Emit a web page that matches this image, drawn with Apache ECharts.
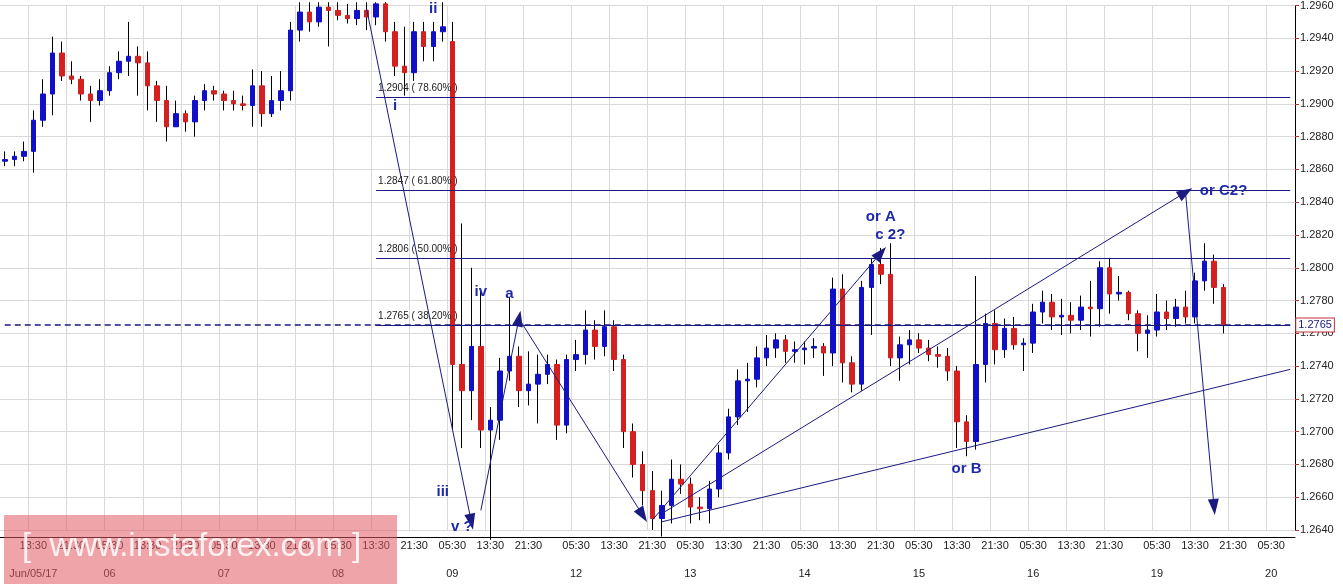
<!DOCTYPE html>
<html lang="en">
<head>
<meta charset="UTF-8" />
<title>GBP/USD H1</title>
<script src="https://cdn.jsdelivr.net/npm/echarts@6/dist/echarts.min.js"></script>
<style>html,body{margin:0;background:#fff}</style>
</head>
<body>
<div id="main" style="width:1343px;height:584px;"></div>
<script>
// trading days shown on the axis, plus one sunday slot after each weekend
const days = ['05', '06', '07', '08', '09', '11', '12', '13', '14', '15', '16', '18', '19', '20'];
const yTicks = [1.2640, 1.2960, 0.0020]; // min, max, step

// candles: [open, close, low, high]
const candles = [
  [1.2865,1.2866,1.2862,1.2871],[1.2866,1.2868,1.2862,1.2871],[1.2868,1.2871,1.2865,1.2877],[1.2871,1.2890,1.2858,1.2896],
  [1.2890,1.2906,1.2886,1.2915],[1.2906,1.2931,1.2893,1.2941],[1.2931,1.2917,1.2914,1.2938],[1.2917,1.2915,1.2912,1.2926],
  [1.2915,1.2906,1.2902,1.2917],[1.2906,1.2902,1.2889,1.2911],[1.2902,1.2908,1.2899,1.2915],[1.2908,1.2919,1.2905,1.2923],
  [1.2919,1.2926,1.2915,1.2932],[1.2926,1.2929,1.2917,1.2950],[1.2929,1.2925,1.2905,1.2935],[1.2925,1.2911,1.2896,1.2932],
  [1.2911,1.2902,1.2889,1.2914],[1.2902,1.2886,1.2877,1.2911],[1.2886,1.2894,1.2886,1.2902],[1.2894,1.2889,1.2883,1.2896],
  [1.2889,1.2902,1.2880,1.2905],[1.2902,1.2908,1.2896,1.2912],[1.2908,1.2906,1.2902,1.2911],[1.2906,1.2902,1.2896,1.2908],
  [1.2902,1.2900,1.2896,1.2908],[1.2900,1.2899,1.2896,1.2905],[1.2899,1.2911,1.2886,1.2921],[1.2911,1.2894,1.2886,1.2920],
  [1.2894,1.2902,1.2892,1.2917],[1.2902,1.2908,1.2896,1.2920],[1.2908,1.2945,1.2902,1.2950],[1.2945,1.2956,1.2938,1.2962],
  [1.2956,1.2950,1.2944,1.2962],[1.2950,1.2959,1.2947,1.2962],[1.2959,1.2957,1.2935,1.2962],[1.2957,1.2954,1.2951,1.2962],
  [1.2954,1.2952,1.2949,1.2961],[1.2952,1.2957,1.2948,1.2962],[1.2957,1.2953,1.2945,1.2962],[1.2953,1.2961,1.2948,1.2962],
  [1.2961,1.2944,1.2938,1.2962],[1.2944,1.2923,1.2917,1.2950],[1.2923,1.2919,1.2905,1.2947],[1.2919,1.2944,1.2914,1.2950],
  [1.2944,1.2935,1.2926,1.2950],[1.2935,1.2944,1.2926,1.2950],[1.2944,1.2947,1.2938,1.2962],[1.2938,1.2741,1.2701,1.2950],
  [1.2741,1.2725,1.2690,1.2827],[1.2725,1.2752,1.2707,1.2800],[1.2752,1.2701,1.2690,1.2786],[1.2701,1.2707,1.2634,1.2715],
  [1.2707,1.2737,1.2695,1.2745],[1.2737,1.2746,1.2731,1.2782],[1.2746,1.2725,1.2715,1.2752],[1.2725,1.2729,1.2716,1.2749],
  [1.2729,1.2735,1.2705,1.2747],[1.2735,1.2741,1.2729,1.2747],[1.2741,1.2704,1.2695,1.2744],[1.2704,1.2744,1.2699,1.2747],
  [1.2744,1.2747,1.2737,1.2756],[1.2747,1.2762,1.2741,1.2774],[1.2762,1.2752,1.2744,1.2768],[1.2752,1.2764,1.2746,1.2774],
  [1.2764,1.2744,1.2737,1.2768],[1.2744,1.2700,1.2690,1.2747],[1.2700,1.2680,1.2672,1.2705],[1.2680,1.2664,1.2655,1.2688],
  [1.2664,1.2647,1.2640,1.2676],[1.2647,1.2655,1.2636,1.2664],[1.2655,1.2671,1.2644,1.2683],[1.2671,1.2668,1.2662,1.2680],
  [1.2668,1.2654,1.2644,1.2672],[1.2654,1.2653,1.2646,1.2660],[1.2653,1.2665,1.2644,1.2670],[1.2665,1.2687,1.2660,1.2692],
  [1.2687,1.2709,1.2683,1.2714],[1.2709,1.2731,1.2704,1.2738],[1.2731,1.2732,1.2712,1.2742],[1.2732,1.2745,1.2727,1.2752],
  [1.2745,1.2751,1.2740,1.2759],[1.2751,1.2756,1.2745,1.2760],[1.2756,1.2749,1.2742,1.2759],[1.2749,1.2750,1.2742,1.2755],
  [1.2750,1.2751,1.2741,1.2755],[1.2751,1.2752,1.2745,1.2757],[1.2752,1.2748,1.2734,1.2754],[1.2748,1.2787,1.2740,1.2794],
  [1.2787,1.2742,1.2730,1.2796],[1.2742,1.2729,1.2724,1.2746],[1.2729,1.2788,1.2725,1.2792],[1.2788,1.2802,1.2759,1.2806],
  [1.2802,1.2796,1.2790,1.2812],[1.2796,1.2745,1.2740,1.2815],[1.2745,1.2753,1.2731,1.2758],[1.2753,1.2756,1.2741,1.2762],
  [1.2756,1.2751,1.2748,1.2760],[1.2751,1.2747,1.2743,1.2756],[1.2747,1.2746,1.2739,1.2752],[1.2746,1.2737,1.2731,1.2751],
  [1.2737,1.2706,1.2690,1.2740],[1.2706,1.2694,1.2685,1.2710],[1.2694,1.2741,1.2689,1.2795],[1.2741,1.2766,1.2730,1.2772],
  [1.2766,1.2750,1.2741,1.2774],[1.2750,1.2763,1.2745,1.2769],[1.2763,1.2753,1.2750,1.2770],[1.2753,1.2754,1.2737,1.2757],
  [1.2754,1.2773,1.2748,1.2778],[1.2773,1.2779,1.2766,1.2786],[1.2779,1.2770,1.2762,1.2784],[1.2770,1.2771,1.2759,1.2781],
  [1.2771,1.2768,1.2760,1.2779],[1.2768,1.2776,1.2762,1.2783],[1.2776,1.2775,1.2758,1.2792],[1.2775,1.2800,1.2764,1.2804],
  [1.2800,1.2784,1.2772,1.2806],[1.2784,1.2785,1.2780,1.2795],[1.2785,1.2772,1.2768,1.2786],[1.2772,1.2760,1.2749,1.2774],
  [1.2760,1.2762,1.2745,1.2771],[1.2762,1.2773,1.2758,1.2784],[1.2773,1.2769,1.2762,1.2780],[1.2769,1.2776,1.2764,1.2781],
  [1.2776,1.2770,1.2766,1.2786],[1.2770,1.2792,1.2766,1.2797],[1.2792,1.2804,1.2786,1.2815],[1.2804,1.2788,1.2778,1.2808],
  [1.2788,1.2765,1.2760,1.2790]
];

// fibonacci retracement levels
const fibLevels = [1.2904, 1.2847, 1.2806, 1.2765];
const fibNames = ['78.60%', '61.80%', '50.00%', '38.20%'];
const lastPrice = 1.2765;

// wave path: [fromIndex, fromPrice, toIndex, toPrice, arrow]
const waveLines = [
  [38, 1.2958, 49, 1.2645, true],
  [50, 1.2652, 54, 1.2769, true],
  [54, 1.2769, 67, 1.2649, true],
  [68, 1.2646, 92, 1.2809, true],
  [69, 1.2650, 124, 1.2846, true],
  [124, 1.2846, 127, 1.2654, true],
  [69, 1.2645, 135, 1.2738, false]
];
// wave labels: [text, index, price]
const waveLabels = [
  ['ii', 45, 1.2958], ['i', 41, 1.2899], ['iii', 46, 1.2663], ['iv', 50, 1.2785],
  ['v ?', 48, 1.2642], ['a', 53, 1.2784], ['b', 68, 1.2636], ['or A', 92, 1.2831],
  ['c 2?', 93, 1.2820], ['or B', 101, 1.2677], ['or C2?', 128, 1.2847]
];

// build the 2-hour time slots
const cats = [];
days.forEach(d => {
  let hours = [];
  for (let h = 1; h < 24; h += 2) hours.push(h);
  if (d === '05') hours = hours.filter(h => h >= 7);
  if (d === '11' || d === '18') hours = [23];
  if (d === '20') hours = hours.filter(h => h <= 9);
  hours.forEach(h => cats.push(d + ' ' + String(h).padStart(2, '0') + ':30'));
});
const shown = t => ['05:30', '13:30', '21:30'].includes(t);

const navy = '#1a1a80';
const ink = '#1e2aa8';

const wicks = candles.map(c => [c[2], c[3], c[2], c[3]]);
const bodies = candles.map(c => [c[0], c[1], Math.min(c[0], c[1]), Math.max(c[0], c[1])]);

const lineData = waveLines.map(w => [
  { coord: [cats[w[0]], w[1]], symbol: 'none' },
  w[4]
    ? { coord: [cats[w[2]], w[3]], symbol: 'triangle', symbolSize: [11, 16], itemStyle: { color: '#1c1cc8' } }
    : { coord: [cats[w[2]], w[3]], symbol: 'none' }
]);
fibLevels.forEach((v, i) => {
  lineData.push([
    { coord: [cats[39], v], symbol: 'none',
      label: { show: true, position: 'insideStartTop', formatter: v.toFixed(4) + ' ( ' + fibNames[i] + ' )',
               color: '#222', fontSize: 10, distance: [2, 4] } },
    { coord: [cats[cats.length - 1], v], symbol: 'none' }
  ]);
});
lineData.push([
  { coord: [cats[0], lastPrice], symbol: 'none', lineStyle: { type: [6, 4], width: 1.5 },
    label: { show: true, position: 'end', formatter: lastPrice.toFixed(4), color: navy, fontSize: 11,
             backgroundColor: '#fff', borderColor: '#c0303a', borderWidth: 1, padding: [1, 2], distance: 6 } },
  { coord: [cats[cats.length - 1], lastPrice], symbol: 'none' }
]);

const chart = echarts.init(document.getElementById('main'));
chart.setOption({
  animation: false,
  backgroundColor: '#fff',
  grid: { left: 0, right: 48, top: 4, bottom: 54 },
  xAxis: {
    type: 'category', data: cats, boundaryGap: true, offset: 7,
    axisLine: { lineStyle: { color: '#000' } },
    axisTick: { show: false },
    splitLine: { show: true, interval: (i, v) => shown(v.slice(3)), lineStyle: { color: '#d9d9d9' } },
    axisLabel: {
      interval: (i, v) => shown(v.slice(3)), margin: 2, fontFamily: 'Liberation Sans',
      formatter: v => {
        const t = v.slice(3), d = v.slice(0, 2);
        let sub = t === '05:30' ? d : '';
        if (v === '05 13:30') sub = 'Jun/05/17';
        return '{t|' + t + '}\n{d|' + sub + '}';
      },
      rich: { t: { fontSize: 11, color: '#222', lineHeight: 14 }, d: { fontSize: 11, color: '#222', lineHeight: 42 } }
    }
  },
  yAxis: {
    type: 'value', position: 'right', scale: true,
    min: yTicks[0], max: yTicks[1], interval: yTicks[2],
    axisLine: { show: true, lineStyle: { color: '#000' } },
    axisTick: { show: true, length: 4, lineStyle: { color: '#c03030' } },
    splitLine: { lineStyle: { color: '#d9d9d9' } },
    axisLabel: { formatter: v => v.toFixed(4), color: '#222', fontSize: 11, margin: 5, fontFamily: 'Liberation Sans' }
  },
  series: [
    {
      type: 'candlestick', data: wicks, barWidth: 1, clip: false, silent: true,
      itemStyle: { color: '#000', color0: '#000', borderColor: '#000', borderColor0: '#000', borderWidth: 1 }
    },
    {
      type: 'candlestick', data: bodies, barWidth: 5, clip: false, silent: true,
      itemStyle: { color: '#1010c8', color0: '#d42020', borderColor: '#1010c8', borderColor0: '#d42020', borderWidth: 1 },
      markLine: {
        silent: true, symbolSize: 14,
        lineStyle: { color: navy, width: 1, type: 'solid' },
        label: { show: false },
        data: lineData
      },
      markPoint: {
        silent: true, symbol: 'rect', symbolSize: 1,
        itemStyle: { color: 'rgba(0,0,0,0)' },
        label: { show: true, position: 'inside', color: ink, fontSize: 15, fontWeight: 'bold', fontFamily: 'Liberation Sans', formatter: p => p.name },
        data: waveLabels.map(w => ({ name: w[0], coord: [cats[w[1]], w[2]] }))
      }
    }
  ],
  graphic: [
    { type: 'rect', z: 100, shape: { x: 4, y: 515, width: 393, height: 69 }, style: { fill: 'rgba(225,90,100,0.55)' } },
    { type: 'text', z: 101, left: 22, top: 530,
      style: { text: '[  www.instaforex.com ]', font: '33px "Liberation Sans"', fill: 'rgba(255,255,255,0.85)' } }
  ]
});
</script>
</body>
</html>
